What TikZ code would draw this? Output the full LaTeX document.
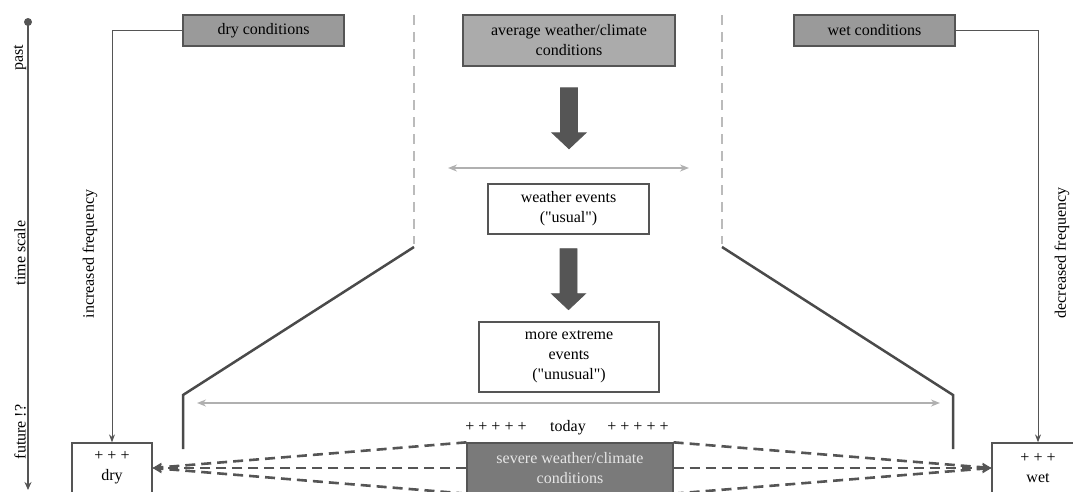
\documentclass[tikz,border=0pt]{standalone}
\usepackage{fontspec}
\setmainfont{Liberation Serif}
\newfontfamily\diagfont{Liberation Serif}
\usetikzlibrary{arrows.meta,calc}
\definecolor{dk}{HTML}{555555}
\definecolor{slantc}{HTML}{4A4A4A}
\definecolor{condfill}{HTML}{9A9A9A}
\definecolor{avgfill}{HTML}{ABABAB}
\definecolor{sevfill}{HTML}{7A7A7A}
\definecolor{sevtext}{HTML}{E6E6E6}
\definecolor{lg}{HTML}{B0B0B0}
\definecolor{vd}{HTML}{BBBBBB}
\definecolor{arrfill}{HTML}{555555}
\newcommand\BigDownArrow[1]{%
  \filldraw[fill=arrfill, draw=dk, line width=0.8pt] (#1) ++(-8.5,0) -- ++(17,0) -- ++(0,45) -- ++(8.5,0) -- ++(-17,16) -- ++(-17,-16) -- ++(8.5,0) -- cycle;}
\tikzset{
  condbox/.style={draw=dk, line width=1.5pt, fill=condfill, inner sep=0pt, align=center},
  whitebox/.style={draw=dk, line width=1.3pt, fill=white, inner sep=0pt, align=center},
  sevbox/.style={draw=dk, line width=1.3pt, fill=sevfill, text=sevtext, inner sep=0pt, align=center},
  thinconn/.style={draw=dk, line width=1pt, -{Stealth[length=8pt,width=6pt]}},
  dconn/.style={draw=dk, line width=2.6pt, dash pattern=on 10pt off 6pt, -{Stealth[length=9pt,width=9pt]}},
  grayarr/.style={draw=lg, line width=2pt, {Stealth[length=9pt,width=7pt]}-{Stealth[length=9pt,width=7pt]}},
  vdashed/.style={draw=vd, line width=2pt, dash pattern=on 10pt off 7pt},
  slant/.style={draw=slantc, line width=2.5pt, line join=miter},
  vlabel/.style={rotate=90, inner sep=0pt}
}
\begin{document}
\begin{tikzpicture}[x=1pt,y=-1pt, font=\diagfont\fontsize{16}{20}\selectfont]
\useasboundingbox (0,0) rectangle (1073,491);
\clip (0,0) rectangle (1073,491);

% time axis
\coordinate (tTop) at (28,22);
\coordinate (tBot) at (28,490);
\draw[dk, line width=1.5pt, -{Stealth[length=8pt,width=7pt]}] (tTop) -- (tBot);
\fill[dk] (tTop) circle (4pt);
\node[vlabel] (past) at (20,58) {past};
\node[vlabel] (tscale) at (20,253) {time scale};
\node[vlabel] (future) at (20,432) {future !?};

% funnel lines
\draw[vdashed] (414,15) -- (414,244);
\draw[slant] (414,247) -- (183,395) -- (183,449);
\draw[vdashed] (722,15) -- (722,244);
\draw[slant] (722,247) -- (953,395) -- (953,449);

% nodes
\node[condbox, minimum width=161pt, minimum height=31pt] (dryc) at (263.5,30.5) {dry conditions};
\node[condbox, fill=avgfill, minimum width=212pt, minimum height=51pt] (avg) at (569,40.5) {average weather/climate\\conditions};
\node[condbox, minimum width=161pt, minimum height=31pt] (wetc) at (874.5,30.5) {wet conditions};
\node[whitebox, minimum width=161pt, minimum height=50pt] (we) at (568.5,209) {weather events\\(\textquotedbl usual\textquotedbl)};
\node[whitebox, minimum width=180pt, minimum height=70pt] (me) at (569,357) {more extreme\\events\\(\textquotedbl unusual\textquotedbl)};
\node[sevbox, minimum width=206pt, minimum height=50pt] (sev) at (570,468) {severe weather/climate\\conditions};
\node[whitebox, minimum width=80pt, minimum height=50pt] (dry) at (112,468) {+ + +\\dry};
\node[whitebox, minimum width=92pt, minimum height=50pt] (wet) at (1038,468) {+ + +\\wet};

\node (plusL) at (496,427) {+ + + + +};
\node (today) at (568,428) {today};
\node (plusR) at (638,427) {+ + + + +};

\node[vlabel] (incf) at (90,254) {increased frequency};
\node[vlabel] (decf) at (1062,253) {decreased frequency};

% big arrows
\coordinate (a1) at ($(avg.south)+(0,21)$);
\BigDownArrow{a1}
\coordinate (a2) at ($(we.south)+(0,14)$);
\BigDownArrow{a2}

% gray double arrows
\coordinate (g1l) at (448,168);
\coordinate (g1r) at (689,168);
\draw[grayarr] (g1l) -- (g1r);
\coordinate (g2l) at (197,403);
\coordinate (g2r) at (940,403);
\draw[grayarr] (g2l) -- (g2r);

% frequency connectors
\draw[thinconn] (dryc.west) -| (dry.north);
\draw[thinconn] (wetc.east) -| (wet.north);

% dashed connectors
\foreach \a in {north west, west, south west} \draw[dconn] (sev.\a) -- (dry.east);
\foreach \a in {north east, east, south east} \draw[dconn] (sev.\a) -- (wet.west);
\end{tikzpicture}
\end{document}
